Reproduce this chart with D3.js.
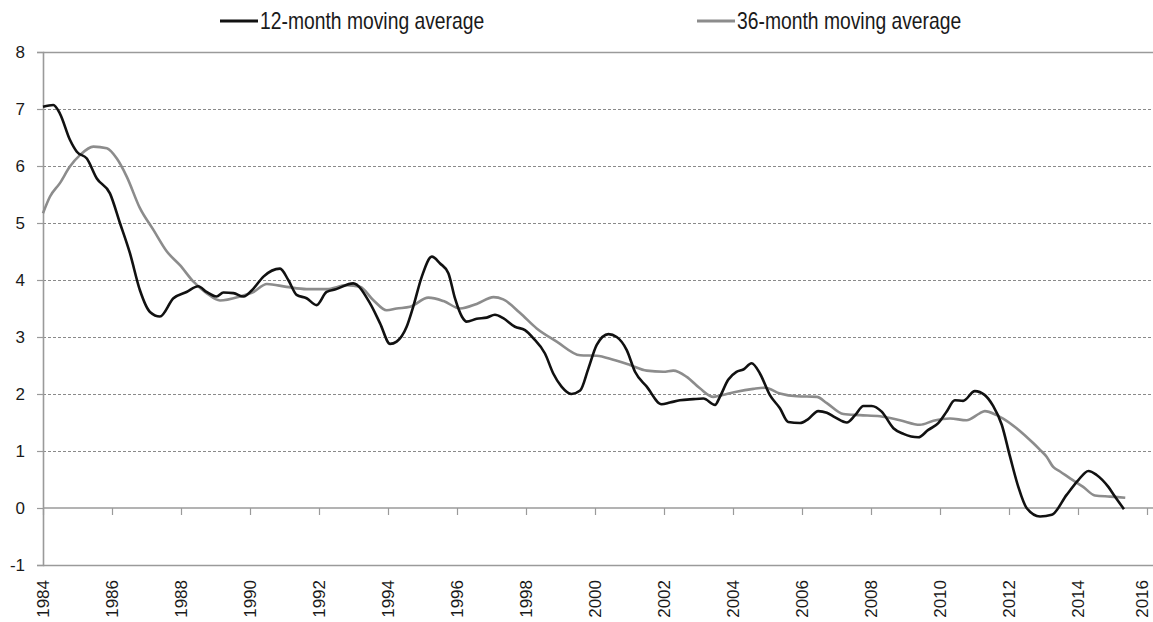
<!DOCTYPE html>
<html>
<head>
<meta charset="utf-8">
<script src="https://cdn.jsdelivr.net/npm/d3@7"></script>
<style>
  html, body { margin: 0; padding: 0; background: #fff; }
  #chart { width: 1153px; height: 622px; }
</style>
</head>
<body>
<div id="chart"></div>
<script>
// 12-month moving average (decimal year, value)
const ma12Years = [
  1984.00, 1984.30, 1984.49, 1984.78, 1984.98, 1985.27, 1985.56, 1985.94, 1986.23, 1986.52,
  1986.81, 1987.10, 1987.39, 1987.78, 1988.16, 1988.50, 1988.74, 1989.03, 1989.23, 1989.52,
  1989.81, 1990.10, 1990.39, 1990.87, 1991.11, 1991.35, 1991.64, 1991.93, 1992.22, 1992.50,
  1992.99, 1993.48, 1993.77, 1994.06, 1994.25, 1994.54, 1994.73, 1994.98, 1995.27, 1995.51,
  1995.75, 1995.94, 1996.14, 1996.28, 1996.57, 1996.86, 1997.10, 1997.34, 1997.68, 1997.97,
  1998.21, 1998.55, 1998.79, 1999.03, 1999.32, 1999.57, 1999.81, 2000.05, 2000.39, 2000.63,
  2000.92, 2001.16, 2001.50, 2001.93, 2002.17, 2002.46, 2002.85, 2003.14, 2003.48, 2003.62,
  2003.86, 2004.10, 2004.30, 2004.54, 2004.78, 2005.07, 2005.36, 2005.60, 2005.94, 2006.18,
  2006.47, 2006.72, 2006.96, 2007.30, 2007.54, 2007.78, 2008.02, 2008.31, 2008.65, 2008.94,
  2009.37, 2009.66, 2009.95, 2010.19, 2010.43, 2010.67, 2011.01, 2011.30, 2011.54, 2011.79,
  2012.03, 2012.27, 2012.51, 2012.90, 2013.24, 2013.67, 2014.01, 2014.30, 2014.54, 2014.88,
  2015.07, 2015.33
];
const ma12Values = [
  7.04, 7.07, 6.92, 6.46, 6.25, 6.13, 5.78, 5.52, 5.00, 4.47,
  3.82, 3.44, 3.36, 3.68, 3.79, 3.89, 3.79, 3.71, 3.78, 3.77,
  3.71, 3.85, 4.06, 4.20, 4.00, 3.74, 3.68, 3.56, 3.79, 3.84,
  3.94, 3.59, 3.24, 2.88, 2.92, 3.18, 3.53, 4.06, 4.41, 4.29,
  4.12, 3.68, 3.36, 3.27, 3.32, 3.34, 3.39, 3.33, 3.18, 3.12,
  2.98, 2.71, 2.36, 2.13, 2.00, 2.06, 2.45, 2.86, 3.05, 3.00,
  2.77, 2.39, 2.13, 1.82, 1.85, 1.89, 1.91, 1.92, 1.81, 1.95,
  2.25, 2.39, 2.43, 2.54, 2.36, 1.98, 1.75, 1.51, 1.49, 1.56,
  1.70, 1.67, 1.59, 1.50, 1.63, 1.79, 1.79, 1.69, 1.40, 1.30,
  1.24, 1.37, 1.49, 1.69, 1.89, 1.88, 2.05, 1.98, 1.79, 1.46,
  0.90, 0.37, 0.00, -0.15, -0.12, 0.23, 0.49, 0.65, 0.58, 0.37,
  0.20, -0.02
];

// 36-month moving average
const ma36Years = [
  1984.00, 1984.20, 1984.49, 1984.78, 1985.07, 1985.46, 1985.85, 1986.14, 1986.43, 1986.81,
  1987.20, 1987.59, 1987.97, 1988.36, 1988.74, 1989.13, 1989.71, 1990.10, 1990.49, 1991.06,
  1991.64, 1992.22, 1992.80, 1993.19, 1993.57, 1993.96, 1994.25, 1994.64, 1995.17, 1995.61,
  1996.09, 1996.57, 1997.06, 1997.34, 1997.83, 1998.31, 1998.89, 1999.57, 2000.05, 2000.53,
  2001.01, 2001.50, 2001.98, 2002.27, 2002.66, 2003.04, 2003.43, 2003.82, 2004.10, 2004.59,
  2004.93, 2005.36, 2005.85, 2006.43, 2006.72, 2007.20, 2007.68, 2008.26, 2008.84, 2009.42,
  2009.81, 2010.29, 2010.77, 2011.15, 2011.30, 2011.64, 2011.83, 2012.22, 2012.70, 2012.90,
  2013.09, 2013.28, 2013.48, 2013.77, 2014.15, 2014.49, 2014.93, 2015.37
];
const ma36Values = [
  5.17, 5.46, 5.70, 5.99, 6.19, 6.34, 6.31, 6.13, 5.81, 5.26,
  4.88, 4.50, 4.26, 3.97, 3.77, 3.64, 3.71, 3.79, 3.93, 3.88,
  3.84, 3.84, 3.91, 3.88, 3.65, 3.47, 3.50, 3.53, 3.69, 3.63,
  3.50, 3.58, 3.70, 3.66, 3.42, 3.15, 2.92, 2.68, 2.67, 2.60,
  2.51, 2.41, 2.39, 2.41, 2.30, 2.10, 1.95, 2.00, 2.04, 2.09,
  2.11, 2.01, 1.96, 1.95, 1.84, 1.65, 1.63, 1.61, 1.54, 1.46,
  1.53, 1.57, 1.54, 1.66, 1.70, 1.63, 1.57, 1.40, 1.14, 1.02,
  0.90, 0.72, 0.64, 0.52, 0.37, 0.22, 0.20, 0.18
];

const yTicks = [-1, 0, 1, 2, 3, 4, 5, 6, 7, 8];
const xTicks = d3.range(1984, 2017, 2);
const seriesNames = ["12-month moving average", "36-month moving average"];

const width = 1153;
const height = 622;
const margin = { top: 52, right: 6, bottom: 57, left: 43 };

const svg = d3.select("#chart")
  .append("svg")
  .attr("width", width)
  .attr("height", height)
  .attr("viewBox", `0 0 ${width} ${height}`);

const x = d3.scaleLinear().domain([1984, 2016]).range([margin.left, 1147]);
const y = d3.scaleLinear().domain([-1, 8]).range([height - margin.bottom, margin.top]);

const axisColor = "#9a9a9a";
const font = "'Liberation Sans', Arial, sans-serif";

// gridlines: dashed in between, solid on top and bottom
svg.append("g")
  .selectAll("line")
  .data(yTicks.filter(d => d !== 0))
  .join("line")
  .attr("x1", margin.left)
  .attr("x2", width)
  .attr("y1", d => Math.round(y(d)) + 0.5)
  .attr("y2", d => Math.round(y(d)) + 0.5)
  .attr("stroke", d => (d === 8 || d === -1) ? axisColor : "#8a8a8a")
  .attr("stroke-width", d => (d === 8 || d === -1) ? 1.6 : 1)
  .attr("stroke-dasharray", d => (d === 8 || d === -1) ? null : "3,2");

// y axis
const yAxis = svg.append("g")
  .attr("transform", `translate(${margin.left},0)`)
  .call(d3.axisLeft(y).tickValues(yTicks).tickSize(6).tickPadding(12).tickFormat(d => String(d)));
yAxis.select(".domain").attr("stroke", axisColor).attr("stroke-width", 1.6);
yAxis.selectAll(".tick line").attr("stroke", axisColor).attr("stroke-width", 1.2);
yAxis.selectAll(".tick text")
  .attr("font-family", font)
  .attr("font-size", 17)
  .attr("fill", "#1a1a1a");

// x axis sits on the zero line
const xAxis = svg.append("g")
  .attr("transform", `translate(0,${y(0)})`)
  .call(d3.axisBottom(x).tickValues(xTicks).tickSize(7).tickSizeOuter(0).tickFormat(() => ""));
xAxis.select(".domain")
  .attr("d", `M${margin.left},0H${width}`)
  .attr("stroke", axisColor).attr("stroke-width", 1.6);
xAxis.selectAll(".tick line").attr("stroke", axisColor).attr("stroke-width", 1.2);

// year labels below the plot, rotated (last one nudged in so it stays on the page)
svg.append("g")
  .selectAll("text")
  .data(xTicks)
  .join("text")
  .attr("transform", d => `translate(${Math.min(x(d) + 6, width - 5)},${y(-1) + 15}) rotate(-90)`)
  .attr("text-anchor", "end")
  .attr("font-family", font)
  .attr("font-size", 17)
  .attr("fill", "#1a1a1a")
  .text(d => d);

const line = d3.line()
  .x(d => x(d[0]))
  .y(d => y(d[1]))
  .curve(d3.curveMonotoneX);

const ma36 = d3.zip(ma36Years, ma36Values);
const ma12 = d3.zip(ma12Years, ma12Values);

svg.append("path")
  .datum(ma36)
  .attr("fill", "none")
  .attr("stroke", "#8c8c8c")
  .attr("stroke-width", 2.6)
  .attr("stroke-linejoin", "round")
  .attr("d", line);

svg.append("path")
  .datum(ma12)
  .attr("fill", "none")
  .attr("stroke", "#111")
  .attr("stroke-width", 2.6)
  .attr("stroke-linejoin", "round")
  .attr("d", line);

// legend (narrow lettering, squeezed horizontally)
const legendItems = [
  { name: seriesNames[0], color: "#111", x: 220 },
  { name: seriesNames[1], color: "#8c8c8c", x: 697 }
];
const legend = svg.append("g").selectAll("g")
  .data(legendItems)
  .join("g")
  .attr("transform", d => `translate(${d.x},21)`);
legend.append("line")
  .attr("x1", 0).attr("x2", 38)
  .attr("stroke", d => d.color)
  .attr("stroke-width", 3);
legend.append("text")
  .attr("transform", "translate(40,8) scale(0.84,1)")
  .attr("font-family", font)
  .attr("font-size", 23)
  .attr("fill", "#1a1a1a")
  .text(d => d.name);
</script>
</body>
</html>
